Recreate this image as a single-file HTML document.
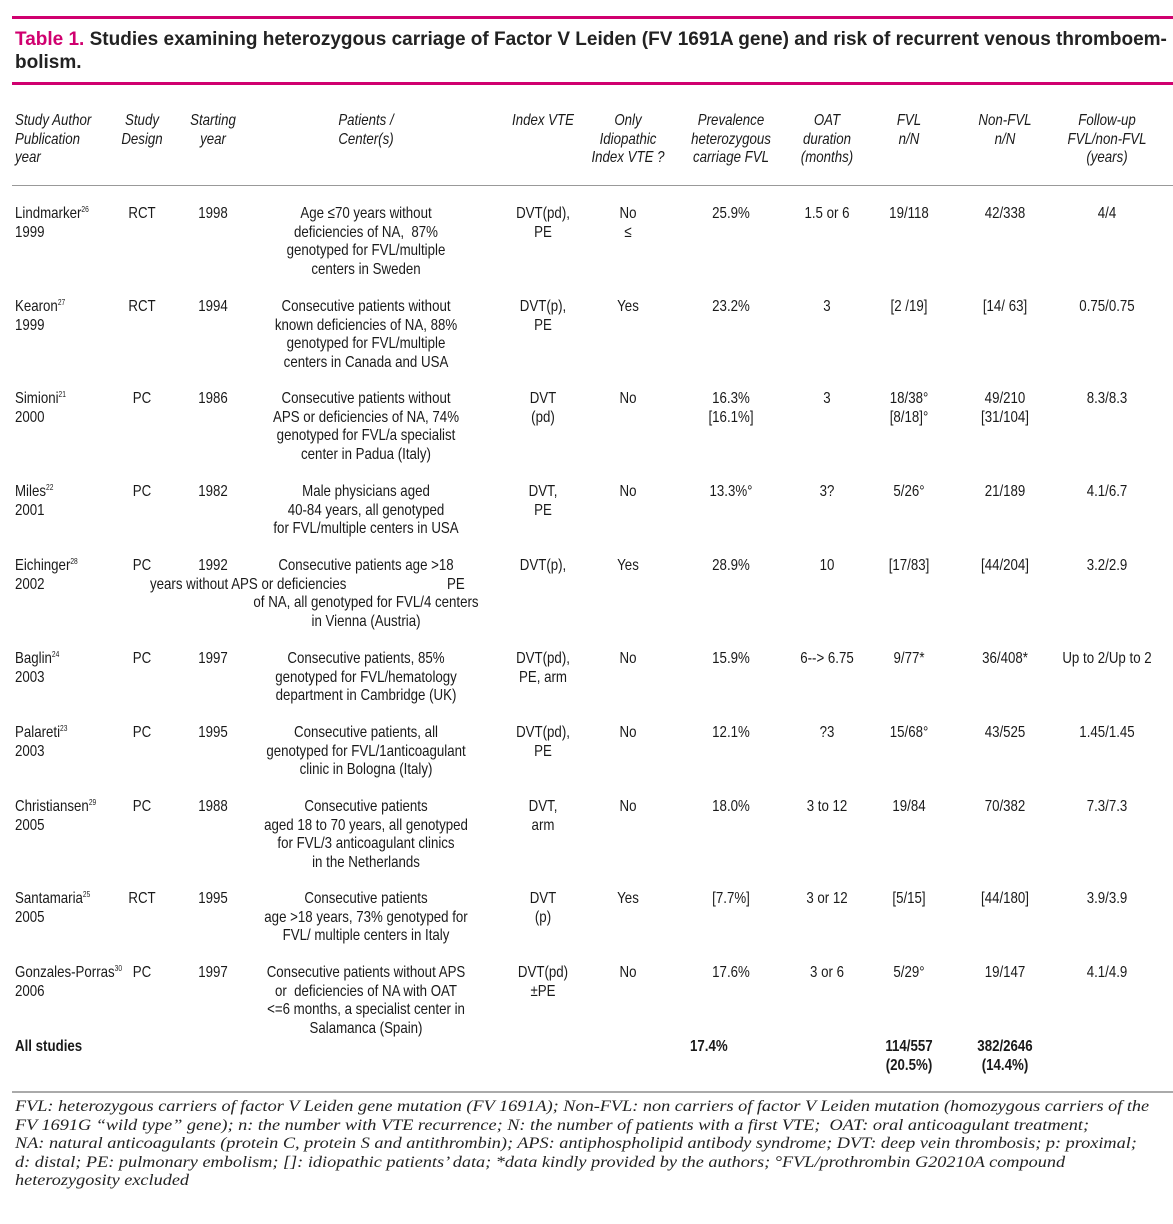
<!DOCTYPE html>
<html><head><meta charset="utf-8">
<style>
body{margin:0;width:1173px;height:1224px;background:#fff;position:relative;overflow:hidden;font-family:"Liberation Sans Narrow","Liberation Sans",sans-serif;color:#1a1a1a}
.t{position:absolute;white-space:nowrap;font-size:16px;line-height:18.5px;transform-origin:0 0;transform:scaleX(.83)}
.c{transform-origin:50% 0;transform:translateX(-50%) scaleX(.83);text-align:center}
.i{font-style:italic}
.b{font-weight:bold}
sup{font-size:8px;vertical-align:6px;line-height:0}
.rule{position:absolute;left:12px;width:1161px}
#title{position:absolute;left:15px;top:28px;font-family:"Liberation Sans",sans-serif;font-weight:bold;font-size:19px;line-height:23px;color:#222;white-space:nowrap}
#title span{color:#d0006f}
#foot{position:absolute;left:15px;top:1098px;font-family:"Liberation Serif",serif;font-style:italic;font-size:16px;line-height:18.6px;white-space:nowrap;color:#222;transform-origin:0 0;transform:scaleX(1.14)}
</style></head><body>
<div class="rule" style="top:16px;height:3px;background:#d0006f"></div>
<div id="title"><span>Table 1.</span> Studies examining heterozygous carriage of Factor V Leiden (FV 1691A gene) and risk of recurrent venous thromboem-<br>bolism.</div>
<div class="rule" style="top:82px;height:3px;background:#d0006f"></div>
<div class="rule" style="top:185px;height:1px;background:#999"></div>
<div class="rule" style="top:1091px;height:2px;background:#aaa"></div>
<div id="cells"></div>
<div id="foot">FVL: heterozygous carriers of factor V Leiden gene mutation (FV 1691A); Non-FVL: non carriers of factor V Leiden mutation (homozygous carriers of the<br>FV 1691G “wild type” gene); n: the number with VTE recurrence; N: the number of patients with a first VTE;&nbsp; OAT: oral anticoagulant treatment;<br>NA: natural anticoagulants (protein C, protein S and antithrombin); APS: antiphospholipid antibody syndrome; DVT: deep vein thrombosis; p: proximal;<br>d: distal; PE: pulmonary embolism; []: idiopathic patients’ data; *data kindly provided by the authors; °FVL/prothrombin G20210A compound<br>heterozygosity excluded</div>
<script>
const colX=[15,142,213,366,543,628,731,827,909,1005,1107];
const headers=[["Study Author","Publication","year"],["Study","Design"],["Starting","year"],["Patients /","Center(s)"],["Index VTE"],["Only","Idiopathic","Index VTE ?"],["Prevalence","heterozygous","carriage FVL"],["OAT","duration","(months)"],["FVL","n/N"],["Non-FVL","n/N"],["Follow-up","FVL/non-FVL","(years)"]];
const rowTops=[205,298,390,483,557,650,724,798,890,964];
const rows=[
[["Lindmarker<sup>26</sup>","1999"],["RCT"],["1998"],["Age ≤70 years without","deficiencies of NA,&nbsp; 87%","genotyped for FVL/multiple","centers in Sweden"],["DVT(pd),","PE"],["No","≤"],["25.9%"],["1.5 or 6"],["19/118"],["42/338"],["4/4"]],
[["Kearon<sup>27</sup>","1999"],["RCT"],["1994"],["Consecutive patients without","known deficiencies of NA, 88%","genotyped for FVL/multiple","centers in Canada and USA"],["DVT(p),","PE"],["Yes"],["23.2%"],["3"],["[2 /19]"],["[14/ 63]"],["0.75/0.75"]],
[["Simioni<sup>21</sup>","2000"],["PC"],["1986"],["Consecutive patients without","APS or deficiencies of NA, 74%","genotyped for FVL/a specialist","center in Padua (Italy)"],["DVT","(pd)"],["No"],["16.3%","[16.1%]"],["3"],["18/38°","[8/18]°"],["49/210","[31/104]"],["8.3/8.3"]],
[["Miles<sup>22</sup>","2001"],["PC"],["1982"],["Male physicians aged","40-84 years, all genotyped","for FVL/multiple centers in USA"],["DVT,","PE"],["No"],["13.3%°"],["3?"],["5/26°"],["21/189"],["4.1/6.7"]],
[["Eichinger<sup>28</sup>","2002"],["PC"],["1992"],["Consecutive patients age >18","","of NA, all genotyped for FVL/4 centers","in Vienna (Austria)"],["DVT(p),"],["Yes"],["28.9%"],["10"],["[17/83]"],["[44/204]"],["3.2/2.9"]],
[["Baglin<sup>24</sup>","2003"],["PC"],["1997"],["Consecutive patients, 85%","genotyped for FVL/hematology","department in Cambridge (UK)"],["DVT(pd),","PE, arm"],["No"],["15.9%"],["6--> 6.75"],["9/77*"],["36/408*"],["Up to 2/Up to 2"]],
[["Palareti<sup>23</sup>","2003"],["PC"],["1995"],["Consecutive patients, all","genotyped for FVL/1anticoagulant","clinic in Bologna (Italy)"],["DVT(pd),","PE"],["No"],["12.1%"],["?3"],["15/68°"],["43/525"],["1.45/1.45"]],
[["Christiansen<sup>29</sup>","2005"],["PC"],["1988"],["Consecutive patients","aged 18 to 70 years, all genotyped","for FVL/3 anticoagulant clinics","in the Netherlands"],["DVT,","arm"],["No"],["18.0%"],["3 to 12"],["19/84"],["70/382"],["7.3/7.3"]],
[["Santamaria<sup>25</sup>","2005"],["RCT"],["1995"],["Consecutive patients","age >18 years, 73% genotyped for","FVL/ multiple centers in Italy"],["DVT","(p)"],["Yes"],["[7.7%]"],["3 or 12"],["[5/15]"],["[44/180]"],["3.9/3.9"]],
[["Gonzales-Porras<sup>30</sup>","2006"],["PC"],["1997"],["Consecutive patients without APS","or&nbsp; deficiencies of NA with OAT","&lt;=6 months, a specialist center in","Salamanca (Spain)"],["DVT(pd)","±PE"],["No"],["17.6%"],["3 or 6"],["5/29°"],["19/147"],["4.1/4.9"]]
];
const totals=[["All studies"],[],[],[],[],[],["17.4%"],[],["114/557","(20.5%)"],["382/2646","(14.4%)"],[]];
const C=document.getElementById('cells');
function put(x,y,html,cls){const d=document.createElement('div');d.className='t '+cls;d.style.left=x+'px';d.style.top=y+'px';d.innerHTML=html;C.appendChild(d);return d;}
headers.forEach((h,j)=>{const d=put(colX[j],112,h.join('<br>'),'i'+(j?' c':''));

});
rows.forEach((r,i)=>{r.forEach((cell,j)=>{const d=put(colX[j],rowTops[i],cell.join('<br>'),j?'c':'');

});});
const e1=put(150,rowTops[4]+18.5,'years without APS or deficiencies','');


const e2=put(447,rowTops[4]+18.5,'PE','');


totals.forEach((cell,j)=>{if(!cell.length)return;const d=put(j===6?690:colX[j],1038,cell.join('<br>'),'b'+(j&&j!==6?' c':''));

});
</script>
</body></html>
